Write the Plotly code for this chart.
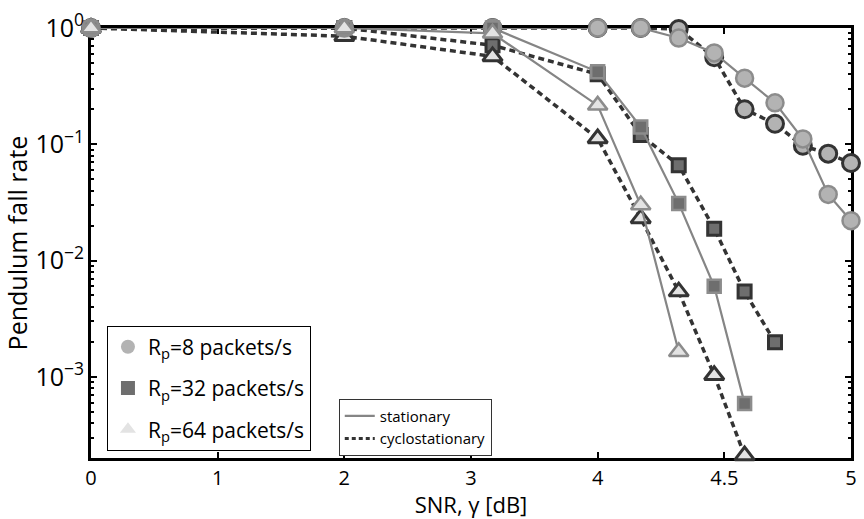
import math
import plotly.graph_objects as go

# SNR grid (dB) shared by all curves
snr_db = [0, 2, 3.17, 4, 4.17, 4.32, 4.46, 4.58, 4.70, 4.81, 4.91, 5.0]
snr_tick_labels = [0, 1, 2, 3, 4, 4.5, 5]

# Pendulum fall rate per packet rate R_p and channel model
rate8_stat = [1, 1, 1, 1, 1, 0.82, 0.61, 0.37, 0.227, 0.111, 0.037, 0.022]
rate8_cyclo = [1, 1, 1, 1, 1, 0.98, 0.56, 0.20, 0.150, 0.097, 0.083, 0.069]
rate32_stat = [1, 1, 1, 0.42, 0.141, 0.031, 0.0060, 0.00059]
rate32_cyclo = [1, 1, 0.71, 0.40, 0.12, 0.066, 0.0188, 0.0054, 0.00198]
rate64_stat = [1, 1, 0.90, 0.216, 0.030, 0.00164]
rate64_cyclo = [1, 0.85, 0.57, 0.112, 0.023, 0.0054, 0.00103, 0.00021]

y_min = 2e-4


def axis_pos(db):
    # the SNR axis is stretched two-fold above 4 dB
    return db if db <= 4 else 4 + 2 * (db - 4)


FONT = "Open Sans"
STAT_LINE = "#858585"
CYCLO_LINE = "#333333"
STAT_EDGE = "#8c8c8c"
FILL = {8: "#b3b3b3", 32: "#6e6e6e", 64: "#e3e3e3"}
SYMBOL = {8: "circle", 32: "square", 64: "triangle-up"}
SIZE = {8: 17, 32: 13, 64: 17}

fig = go.Figure()

curves = [
    (8, rate8_cyclo, "cyclo"), (32, rate32_cyclo, "cyclo"), (64, rate64_cyclo, "cyclo"),
    (8, rate8_stat, "stat"), (32, rate32_stat, "stat"), (64, rate64_stat, "stat"),
]
for rp, vals, kind in curves:
    xs = [axis_pos(d) for d in snr_db[:len(vals)]]
    cyclo = kind == "cyclo"
    fig.add_trace(go.Scatter(
        x=xs, y=vals, mode="lines+markers", showlegend=False, cliponaxis=False,
        line=dict(color=CYCLO_LINE if cyclo else STAT_LINE, width=3.5 if cyclo else 2.2,
                  dash="6px,4px" if cyclo else "solid"),
        marker=dict(symbol=SYMBOL[rp], size=SIZE[rp], color=FILL[rp],
                    line=dict(color=CYCLO_LINE if cyclo else STAT_EDGE, width=3 if cyclo else 2.5)),
    ))

# marker legend (packet rates)
for rp in (8, 32, 64):
    fig.add_trace(go.Scatter(
        x=[None], y=[None], mode="markers", legend="legend", legendgroup=f"rp{rp}",
        name=f"R<sub>p</sub>=" + f"{rp} packets/s",
        marker=dict(symbol=SYMBOL[rp], size=14, color=FILL[rp], line=dict(width=0)),
    ))

# line legend (channel models)
fig.add_trace(go.Scatter(x=[None], y=[None], mode="lines", legend="legend2", name="stationary",
                         line=dict(color=STAT_LINE, width=2.2)))
fig.add_trace(go.Scatter(x=[None], y=[None], mode="lines", legend="legend2", name="cyclostationary",
                         line=dict(color=CYCLO_LINE, width=3, dash="4px,3px")))

axis_common = dict(
    showline=True, linecolor="black", linewidth=3, mirror="ticks",
    ticks="inside", tickcolor="black", tickwidth=2, ticklen=6,
    showgrid=False, zeroline=False, layer="below traces",
    tickfont=dict(family=FONT, size=20, color="black"),
)

fig.update_layout(
    width=864, height=519,
    margin=dict(l=91, r=7, t=25, b=59),
    paper_bgcolor="white", plot_bgcolor="white",
    font=dict(family=FONT, color="black"),
    xaxis=dict(
        range=[0, 6],
        tickvals=[axis_pos(t) for t in snr_tick_labels],
        ticktext=[str(t) for t in snr_tick_labels],
        title=dict(text="SNR, \u03b3 [dB]", font=dict(family=FONT, size=22), standoff=6),
        **axis_common,
    ),
    yaxis=dict(
        type="log", range=[math.log10(y_min), 0],
        tickmode="linear", tick0=0, dtick=1, exponentformat="power",
        labelalias={"1": "10<sup>0</sup>"},
        minor=dict(dtick="D1", ticks="inside", ticklen=3,
                   tickwidth=1.5, tickcolor="black", showgrid=False),
        title=dict(text="Pendulum fall rate", font=dict(family=FONT, size=25), standoff=1),
        **axis_common,
    ),
    legend=dict(
        x=0.021, y=0.308, xanchor="left", yanchor="top",
        bgcolor="white", bordercolor="black", borderwidth=1,
        font=dict(family=FONT, size=21, color="black"),
        traceorder="grouped", tracegroupgap=11, itemsizing="trace",
    ),
    legend2=dict(
        x=0.326, y=0.138, xanchor="left", yanchor="top",
        bgcolor="white", bordercolor="#333333", borderwidth=1,
        font=dict(family=FONT, size=15, color="black"),
        tracegroupgap=0,
    ),
)

fig.write_html("out.html")
